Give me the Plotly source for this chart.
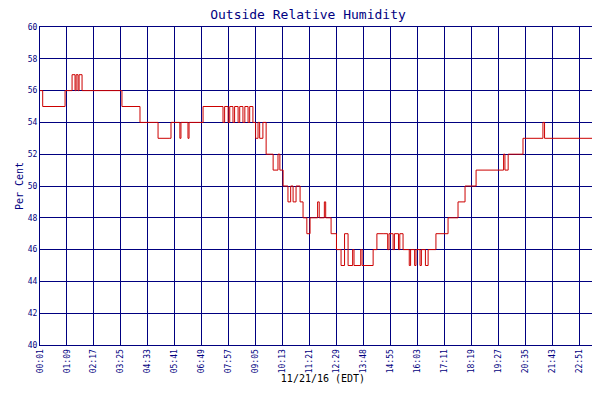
import plotly.graph_objects as go

tick_labels = ["00:01", "01:09", "02:17", "03:25", "04:33", "05:41", "06:49", "07:57",
               "09:05", "10:13", "11:21", "12:29", "13:48", "14:55", "16:03", "17:11",
               "18:19", "19:27", "20:35", "21:43", "22:51", "23:27"]

# position along the time axis (in tick intervals) and humidity value
t = [0.0, 0.1, 0.93, 1.19, 1.3, 1.34, 1.41, 1.45, 1.56, 1.6, 3.0, 3.04, 3.71, 4.3, 4.38, 4.82,
     4.86, 5.19, 5.23, 5.49, 5.53, 6.05, 6.79, 6.85, 6.98, 7.04, 7.16, 7.22, 7.35, 7.41,
     7.53, 7.6, 7.72, 7.78, 7.9, 8.0, 8.09, 8.15, 8.27, 8.39, 8.65, 8.83, 8.9, 9.02, 9.2,
     9.3, 9.39, 9.5, 9.65, 9.76, 9.9, 10.02, 10.13, 10.3, 10.36, 10.55, 10.6, 10.8, 10.87,
     11.0, 11.17, 11.3, 11.43, 11.6, 11.65, 11.9, 11.95, 12.17, 12.36, 12.5, 12.73, 12.9,
     12.95, 13.1, 13.15, 13.3, 13.35, 13.47, 13.7, 13.75, 13.9, 13.95, 14.1, 14.15, 14.3,
     14.4, 14.69, 15.14, 15.51, 15.77, 16.18, 17.2, 17.25, 17.37, 17.92, 18.66, 18.72, 21.0]
humidity = [56, 55, 56, 57, 56, 57, 56, 57, 56, 56, 56, 55, 54, 54, 53, 53,
            54, 53, 54, 53, 54, 55, 54, 55, 54, 55, 54, 55, 54, 55,
            54, 55, 54, 55, 54, 53, 54, 53, 54, 52, 51, 52, 51, 50, 49,
            50, 49, 50, 49, 48, 47, 48, 48, 49, 48, 49, 48, 47, 47,
            46, 45, 47, 45, 46, 45, 46, 45, 45, 46, 47, 47, 46,
            47, 46, 47, 46, 47, 46, 45, 46, 45, 46, 45, 46, 45,
            46, 47, 48, 49, 50, 51, 52, 51, 52, 53, 54, 53, 53]

navy = "#000080"
fig = go.Figure()
fig.add_trace(go.Scatter(x=t, y=humidity, mode="lines", line_shape="hv",
                         line=dict(color="#cc0000", width=1), name="Relative Humidity"))

fig.update_layout(
    width=600, height=400, template="plotly_white",
    paper_bgcolor="white", plot_bgcolor="white",
    margin=dict(l=32, r=2, t=19, b=63, autoexpand=False),
    font=dict(family="DejaVu Sans Mono", color=navy, size=8),
    title=dict(text="Outside Relative Humidity", x=0.5, y=0.995, xanchor="center",
               yanchor="top", font=dict(size=13, color=navy)),
    showlegend=True,
    legend=dict(orientation="h", x=0.45, xanchor="center", y=-0.17, yanchor="top",
                font=dict(size=8, color=navy)),
    xaxis=dict(range=[0, 21], tickmode="array", tickvals=list(range(22)),
               ticktext=tick_labels, tickangle=-90, showgrid=True, gridcolor=navy,
               gridwidth=1, zeroline=False, showline=True, linecolor=navy, mirror=True,
               automargin=False,
               title=dict(text="11/21/16 (EDT)", font=dict(size=10, color="black"), standoff=2)),
    yaxis=dict(range=[40, 60], dtick=2, showgrid=True, gridcolor=navy, gridwidth=1,
               zeroline=False, showline=True, linecolor=navy, mirror=True, automargin=False,
               title=dict(text="Per Cent", font=dict(size=10, color=navy), standoff=2)),
)

fig.write_html("out.html")
